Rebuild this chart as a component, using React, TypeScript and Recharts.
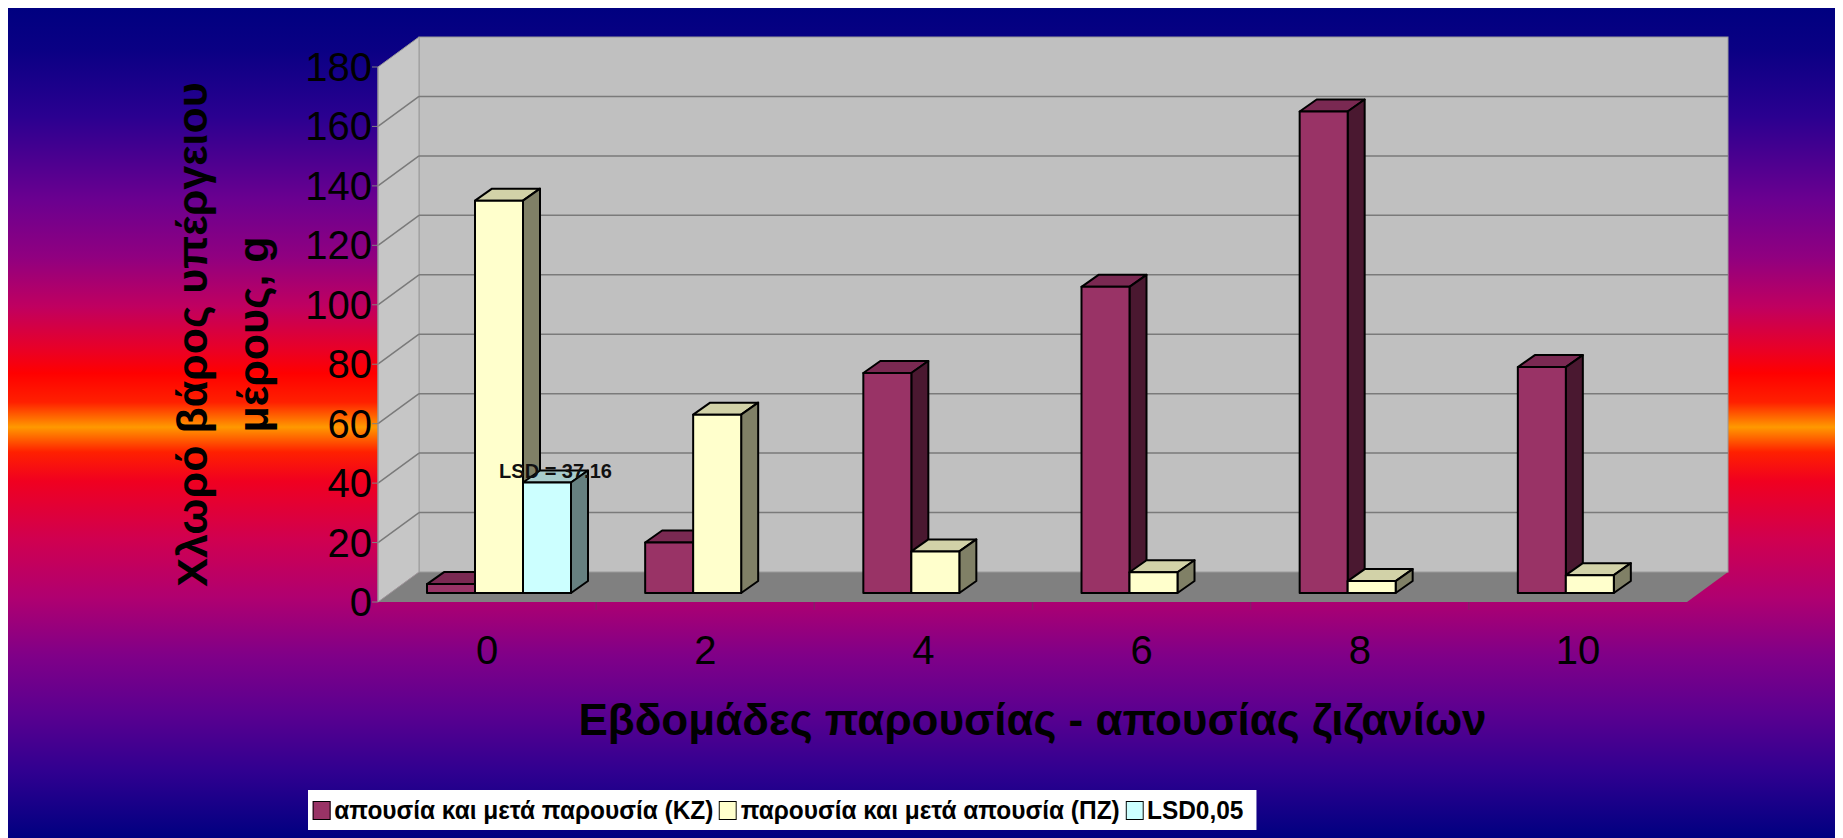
import React from 'react'
import { BarChart, Bar, XAxis, YAxis, ReferenceArea, Label, LabelList } from 'recharts'

const WEEKS = ['0', '2', '4', '6', '8', '10']
const KZ_VALUES = [3, 17, 74, 103, 162, 76]
const PZ_VALUES = [132, 60, 14, 7, 4, 6]
const LSD_VALUES: (number | null)[] = [37.16, null, null, null, null, null]
const Y_TICKS = [0, 20, 40, 60, 80, 100, 120, 140, 160, 180]

const X_TITLE = 'Εβδομάδες παρουσίας - απουσίας ζιζανίων'
const Y_TITLE = ['Χλωρό βάρος υπέργειου', 'μέρους, g']

const SERIES = [
  { key: 'kz', name: 'απουσία και μετά παρουσία (ΚΖ)', front: '#993366', top: '#7a2952', side: '#4a1830' },
  { key: 'pz', name: 'παρουσία και μετά απουσία (ΠΖ)', front: '#ffffcc', top: '#d2d2a8', side: '#808066' },
  { key: 'lsd', name: 'LSD0,05', front: '#ccffff', top: '#a8cccc', side: '#668080' },
]

const data = WEEKS.map((week, i) => ({
  week,
  kz: KZ_VALUES[i],
  pz: PZ_VALUES[i],
  lsd: LSD_VALUES[i],
}))

const FONT = '"Liberation Sans", Arial, sans-serif'

// fake 3d: wall depth and bar depth (px)
const WALL_DX = 41
const WALL_DY = 30
const BAR_SHIFT_X = 12
const BAR_SHIFT_Y = 9
const BAR_DX = 17
const BAR_DY = 12

const BG =
  'linear-gradient(to bottom, #000080 0%, #0a0084 5%, #2a0090 13%, #6a0090 23%, #900080 30%, #c00060 36%, #e80028 41%, #ff0000 44%, #ff2000 47.5%, #ff9900 50.5%, #ff2000 53.5%, #f00020 57%, #d00050 64%, #b00070 71%, #800088 78%, #5a0090 85%, #300090 92%, #000080 100%)'

const Walls = (props: any) => {
  const { x, y, width, height } = props
  const bottom = y + height
  const right = x + width
  const max = Y_TICKS[Y_TICKS.length - 1]
  return (
    <g>
      <polygon
        points={`${x},${bottom} ${right},${bottom} ${right + WALL_DX},${bottom - WALL_DY} ${x + WALL_DX},${bottom - WALL_DY}`}
        fill="#808080"
      />
      <rect x={x + WALL_DX} y={y - WALL_DY} width={width} height={height} fill="#c0c0c0" stroke="#9a9a9a" />
      <polygon
        points={`${x},${y} ${x + WALL_DX},${y - WALL_DY} ${x + WALL_DX},${bottom - WALL_DY} ${x},${bottom}`}
        fill="#c6c6c6"
        stroke="#9a9a9a"
      />
      {Y_TICKS.filter((t) => t > 0 && t < max).map((t) => {
        const yy = bottom - (height * t) / max
        return (
          <g key={t} stroke="#7a7a7a" strokeWidth={1.5}>
            <line x1={x} y1={yy} x2={x + WALL_DX} y2={yy - WALL_DY} />
            <line x1={x + WALL_DX} y1={yy - WALL_DY} x2={right + WALL_DX} y2={yy - WALL_DY} />
          </g>
        )
      })}
      {WEEKS.slice(1).map((w, i) => {
        const bx = x + (width * (i + 1)) / WEEKS.length
        return <line key={w} x1={bx} y1={bottom} x2={bx} y2={bottom + 8} stroke="#8a1a6a" strokeWidth={1.5} />
      })}
    </g>
  )
}

const makeBox = (s: (typeof SERIES)[number]) => (props: any) => {
  const { x, y, width, height, payload } = props
  if (!payload || payload[s.key] == null || !(height > 0)) return <g />
  const fx = x + BAR_SHIFT_X
  const fy = y - BAR_SHIFT_Y
  const fr = fx + width
  const fb = fy + height
  return (
    <g stroke="#000" strokeWidth={2} strokeLinejoin="round">
      <polygon points={`${fx},${fy} ${fx + BAR_DX},${fy - BAR_DY} ${fr + BAR_DX},${fy - BAR_DY} ${fr},${fy}`} fill={s.top} />
      <polygon points={`${fr},${fy} ${fr + BAR_DX},${fy - BAR_DY} ${fr + BAR_DX},${fb - BAR_DY} ${fr},${fb}`} fill={s.side} />
      <rect x={fx} y={fy} width={width} height={height} fill={s.front} />
    </g>
  )
}

const LsdLabel = (props: any) => {
  const { x, y, width, value } = props
  if (value == null) return null
  return (
    <text
      x={x + width / 2 + BAR_SHIFT_X + BAR_DX / 2}
      y={y - BAR_SHIFT_Y - BAR_DY}
      textAnchor="middle"
      dominantBaseline="central"
      fontFamily={FONT}
      fontWeight="bold"
      fontSize={20}
      fill="#111"
    >
      {`LSD = ${value}`}
    </text>
  )
}

const YTick = (props: any) => {
  const { x, y, payload } = props
  return (
    <text x={x} y={y} textAnchor="end" dominantBaseline="central" fontFamily={FONT} fontSize={40} fill="#000">
      {payload.value}
    </text>
  )
}

const XTick = (props: any) => {
  const { x, y, payload } = props
  return (
    <text x={x} y={y + 48} textAnchor="middle" dominantBaseline="central" fontFamily={FONT} fontSize={40} fill="#000">
      {payload.value}
    </text>
  )
}

const XTitle = (props: any) => {
  const { x, y, width } = props.viewBox
  return (
    <text x={x + width / 2} y={y + 117} textAnchor="middle" dominantBaseline="central" fontFamily={FONT} fontWeight="bold" fontSize={44} fill="#000">
      {X_TITLE}
    </text>
  )
}

const YTitle = (props: any) => {
  const { x, y, height } = props.viewBox
  const cy = y + height / 2
  const cols = [x - 106, x - 45]
  return (
    <g>
      {Y_TITLE.map((line, i) => (
        <text
          key={i}
          x={cols[i]}
          y={cy}
          transform={`rotate(-90 ${cols[i]} ${cy})`}
          textAnchor="middle"
          dominantBaseline="central"
          fontFamily={FONT}
          fontWeight="bold"
          fontSize={43}
          fill="#000"
        >
          {line}
        </text>
      ))}
    </g>
  )
}

const LegendBox = () => (
  <div
    style={{
      position: 'absolute',
      left: 300,
      top: 782,
      height: 40,
      padding: '0 8px 0 5px',
      background: '#fff',
      display: 'flex',
      alignItems: 'center',
      fontFamily: FONT,
      fontWeight: 'bold',
      fontSize: 26,
      color: '#000',
      whiteSpace: 'nowrap',
      transform: 'scaleX(0.94)',
      transformOrigin: 'left center',
    }}
  >
    {SERIES.map((s) => (
      <div key={s.key} style={{ display: 'flex', alignItems: 'center', marginRight: 6 }}>
        <span style={{ width: 17, height: 17, background: s.front, border: '1.5px solid #000', marginRight: 4 }} />
        <span>{s.name}</span>
      </div>
    ))}
  </div>
)

export default function App() {
  return (
    <div style={{ position: 'relative', width: 1835, height: 830, background: BG }}>
      <BarChart
        width={1835}
        height={830}
        data={data}
        margin={{ top: 59, right: 156, bottom: 176, left: 290 }}
        barGap={0}
        barSize={48}
      >
        <ReferenceArea y1={0} y2={180} shape={<Walls />} ifOverflow="visible" />
        <XAxis dataKey="week" height={60} axisLine={false} tickLine={false} tickSize={0} tickMargin={0} tick={<XTick />} interval={0}>
          <Label content={<XTitle />} />
        </XAxis>
        <YAxis
          width={80}
          domain={[0, 180]}
          ticks={Y_TICKS}
          interval={0}
          axisLine={{ stroke: '#9a9a9a' }}
          tickLine={{ stroke: '#808080' }}
          tickSize={6}
          tickMargin={0}
          tick={<YTick />}
        >
          <Label content={<YTitle />} />
        </YAxis>
        {SERIES.map((s) => (
          <Bar key={s.key} dataKey={s.key} name={s.name} shape={makeBox(s)} isAnimationActive={false}>
            {s.key === 'lsd' && <LabelList dataKey="lsd" content={<LsdLabel />} />}
          </Bar>
        ))}
      </BarChart>
      <LegendBox />
    </div>
  )
}
